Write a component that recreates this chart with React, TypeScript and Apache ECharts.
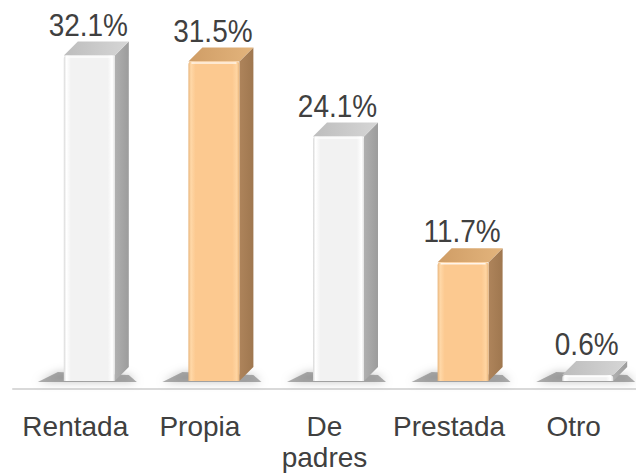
import React, { useEffect, useRef } from "react";
import * as echarts from "echarts";

const categories = ["Rentada", "Propia", "De padres", "Prestada", "Otro"];
const values = [32.1, 31.5, 24.1, 11.7, 0.6];
const barTone = ["gray", "orange", "gray", "orange", "gray"];

const FONT = '"Liberation Sans", Arial, sans-serif';
const W = 51;
const OFFSET = 14;
const DX = 14;
const DY = -14;
const LIFT = 8;

const TONES: Record<string, any> = {
  gray: {
    front: [
      { offset: 0, color: "#d8d8d8" },
      { offset: 0.05, color: "#ffffff" },
      { offset: 0.14, color: "#f2f2f2" },
      { offset: 0.86, color: "#f2f2f2" },
      { offset: 0.95, color: "#ffffff" },
      { offset: 1, color: "#e2e2e2" },
    ],
    side: ["#b0b0b0", "#9c9c9c"],
    top: ["#bdbdbd", "#d6d6d6"],
  },
  orange: {
    front: [
      { offset: 0, color: "#e9b57b" },
      { offset: 0.05, color: "#ffd8a8" },
      { offset: 0.14, color: "#fcc990" },
      { offset: 0.86, color: "#fcc990" },
      { offset: 0.95, color: "#ffd5a2" },
      { offset: 1, color: "#e8b47a" },
    ],
    side: ["#ae845b", "#9f774f"],
    top: ["#cf9d66", "#e3b47c"],
  },
};

export default function App() {
  const ref = useRef<HTMLDivElement>(null);
  useEffect(() => {
    const chart = echarts.init(ref.current!, null, { renderer: "svg" });
    const data = categories.map((c, i) => [i, values[i]]);
    chart.setOption({
      animation: false,
      backgroundColor: "#ffffff",
      grid: { left: 13, width: 626, top: 34, bottom: 82 },
      xAxis: {
        type: "category",
        data: categories,
        axisLine: { show: true, lineStyle: { color: "#d9d9d9", width: 2 } },
        axisTick: { show: false },
        axisLabel: {
          interval: 0,
          margin: 22,
          color: "#404040",
          fontSize: 28,
          lineHeight: 31,
          fontFamily: FONT,
          formatter: (v: string) => v.replace(" ", "\n"),
        },
      },
      yAxis: {
        type: "value",
        min: 0,
        max: 35,
        show: false,
        splitLine: { show: false },
      },
      series: [
        {
          type: "custom",
          encode: { x: 0, y: 1 },
          data,
          clip: false,
          renderItem: (params: any, api: any) => {
            const idx = api.value(0);
            const v = api.value(1);
            const base = api.coord([idx, 0]);
            const top = api.coord([idx, v]);
            const cx = base[0] + OFFSET;
            const fl = cx - W / 2;
            const fr = cx + W / 2;
            const yb = base[1] - LIFT;
            const yt = top[1] - LIFT;
            const tone = TONES[barTone[idx]];
            const grad = (stops: any, x2: number, y2: number) => ({
              type: "linear",
              x: 0,
              y: 0,
              x2,
              y2,
              colorStops: stops,
            });
            return {
              type: "group",
              children: [
                {
                  type: "polygon",
                  shape: {
                    points: [
                      [fl - 26, yb + 1],
                      [fr + DX + 8, yb + 1],
                      [fr + DX, yb - 6],
                      [fl - 6, yb - 9],
                    ],
                  },
                  style: {
                    fill: "rgba(80,80,80,0.45)",
                    shadowBlur: 9,
                    shadowColor: "rgba(0,0,0,0.5)",
                  },
                },
                {
                  type: "polygon",
                  shape: {
                    points: [
                      [fr, yb],
                      [fr, yt],
                      [fr + DX, yt + DY],
                      [fr + DX, yb + DY],
                    ],
                  },
                  style: { fill: grad([{ offset: 0, color: tone.side[0] }, { offset: 1, color: tone.side[1] }], 1, 0) },
                },
                {
                  type: "polygon",
                  shape: {
                    points: [
                      [fl, yt],
                      [fl + DX, yt + DY],
                      [fr + DX, yt + DY],
                      [fr, yt],
                    ],
                  },
                  style: { fill: grad([{ offset: 0, color: tone.top[0] }, { offset: 1, color: tone.top[1] }], 1, 0) },
                },
                {
                  type: "rect",
                  shape: { x: fl, y: yt, width: W, height: yb - yt, r: [3, 3, 0, 0] },
                  style: { fill: grad(tone.front, 1, 0) },
                },
                {
                  type: "line",
                  shape: { x1: fl + 3, y1: yt + 1.5, x2: fr - 3, y2: yt + 1.5 },
                  style: { stroke: "rgba(255,255,255,0.8)", lineWidth: 1.5 },
                },
                {
                  type: "text",
                  x: cx - 1,
                  y: yt + DY - 1,
                  scaleY: 1.15,
                  style: {
                    text: v.toFixed(1) + "%",
                    fill: "#404040",
                    font: `28px ${FONT}`,
                    align: "center",
                    verticalAlign: "bottom",
                  },
                },
              ],
            };
          },
        },
      ],
    });
    return () => chart.dispose();
  }, []);
  return (
    <div
      ref={ref}
      style={{ position: "absolute", left: 0, top: 0, width: 636, height: 473 }}
    />
  );
}
